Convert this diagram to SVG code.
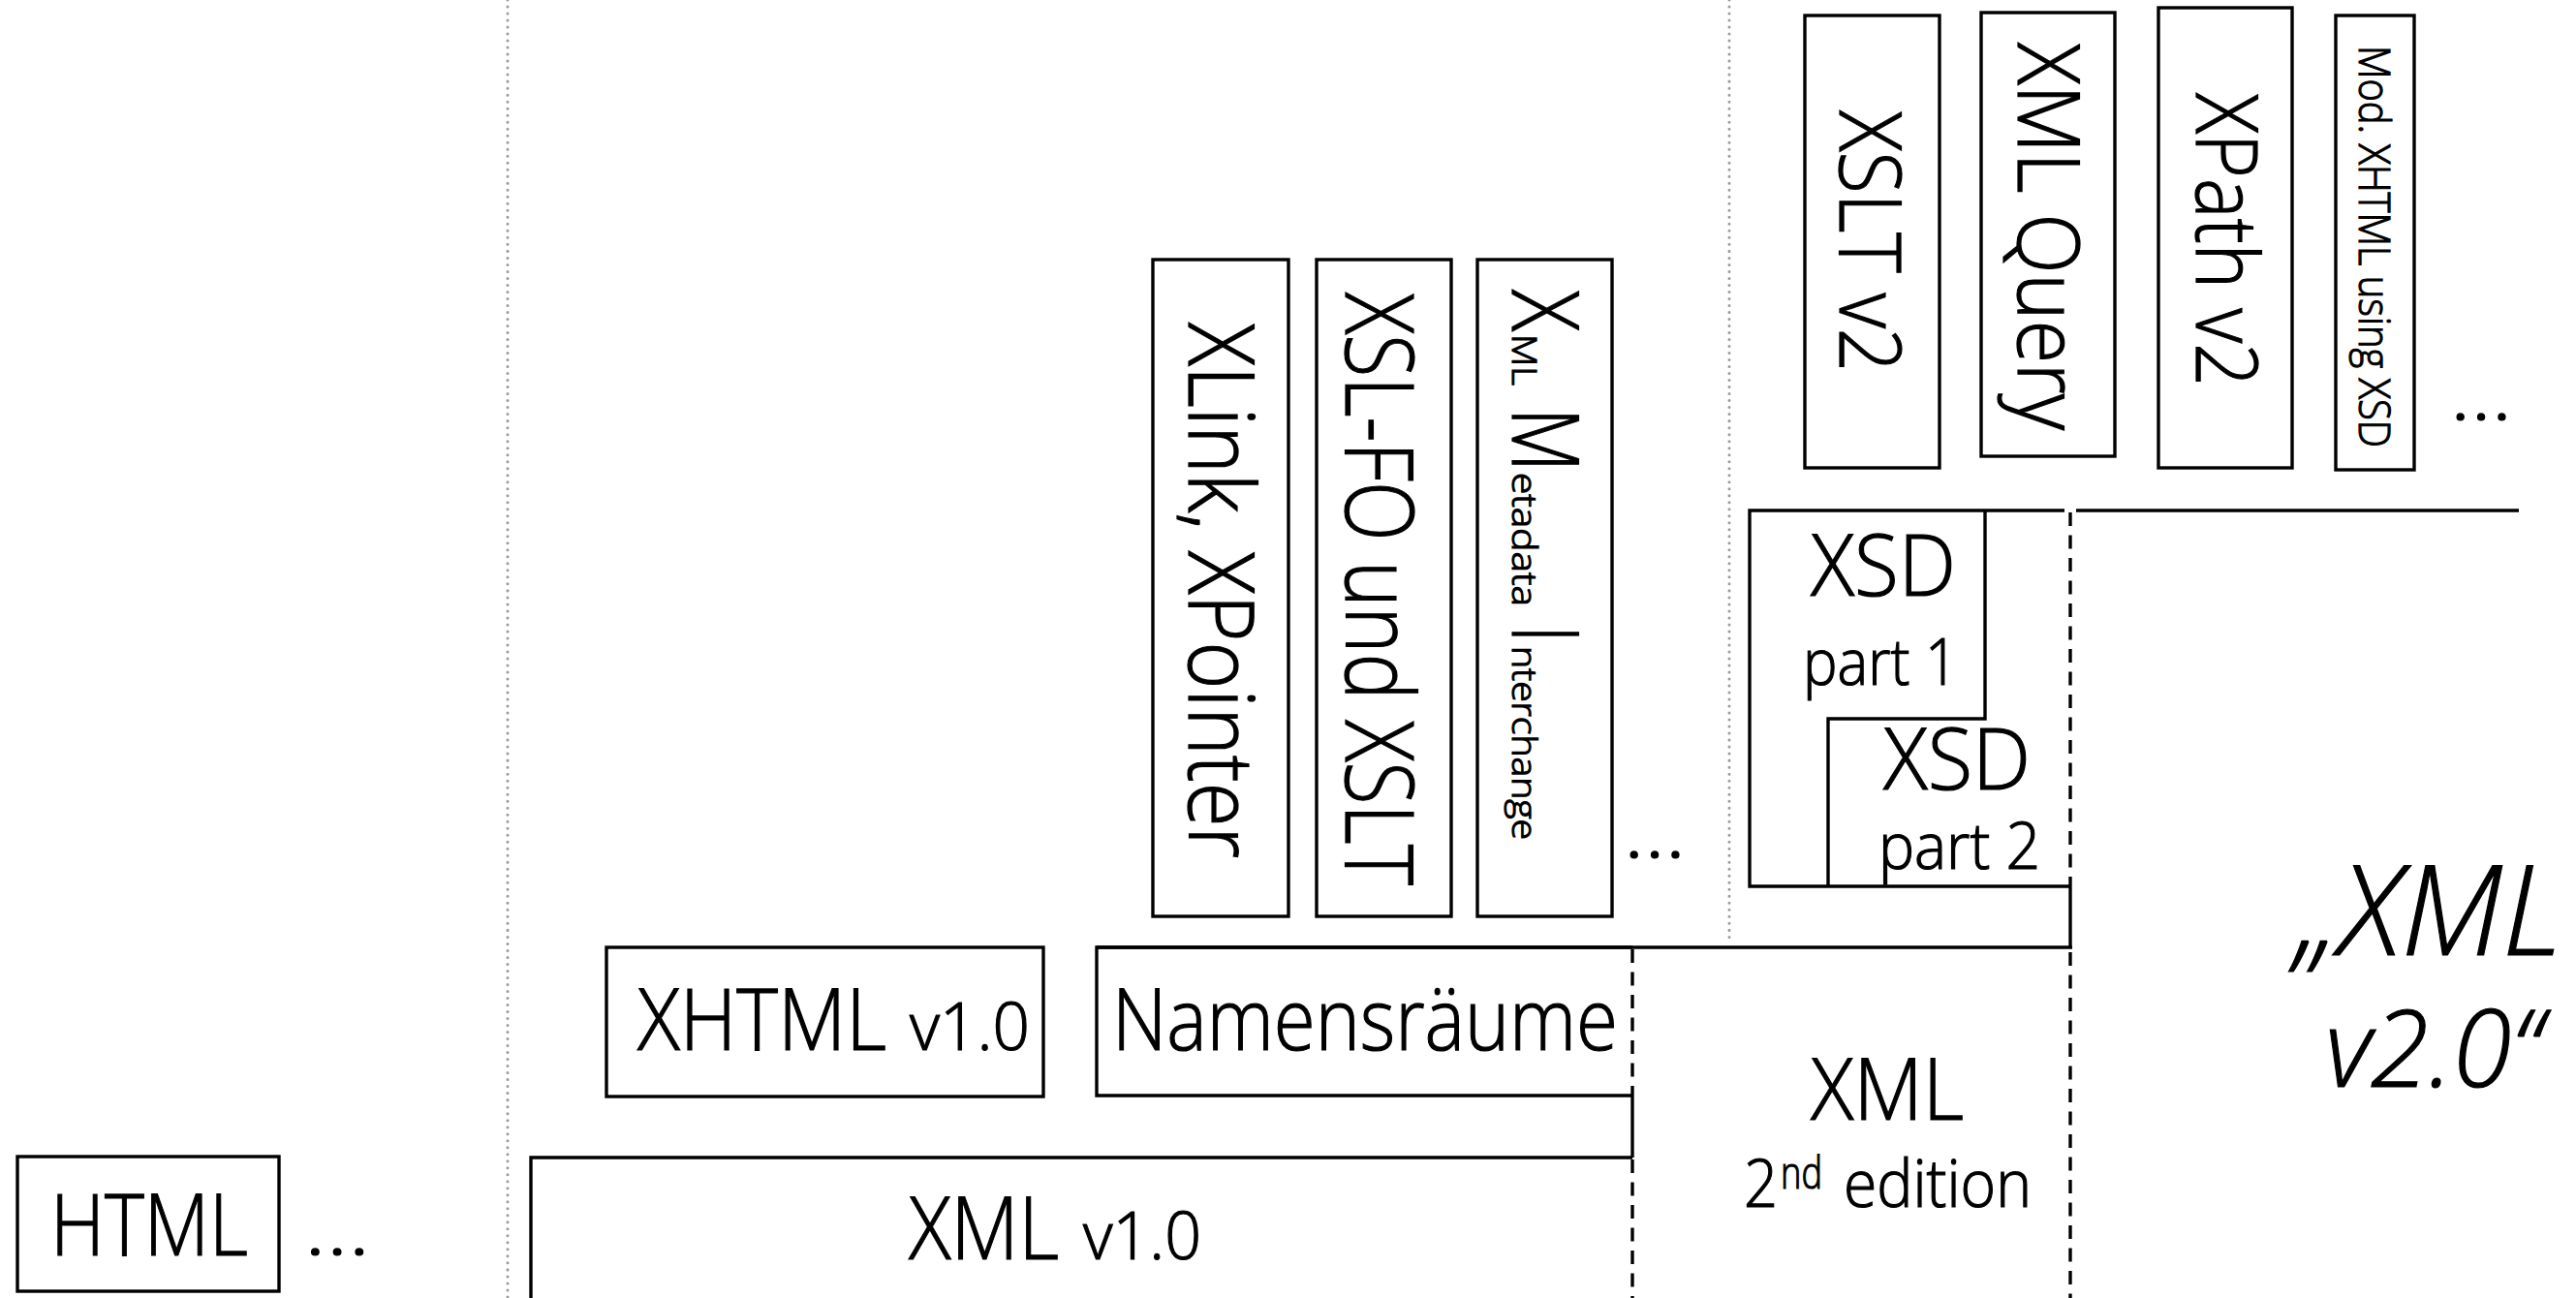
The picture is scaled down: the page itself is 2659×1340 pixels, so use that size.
<svg xmlns="http://www.w3.org/2000/svg" width="2659" height="1340" viewBox="0 0 2659 1340">
<style>
.b{fill:none;stroke:#000;stroke-width:3.4}
.d{fill:none;stroke:#000;stroke-width:3.4;stroke-dasharray:14 9.5}
.g{fill:none;stroke:#9a9a9a;stroke-width:3;stroke-linecap:round;stroke-dasharray:0.01 7}
.t{font-family:"Open Sans","Liberation Sans",Arial,sans-serif;font-weight:300;fill:#000;stroke:#000;stroke-width:1.2}
.i{font-family:"Open Sans","Liberation Sans",Arial,sans-serif;font-weight:300;font-style:italic;fill:#000;stroke:#000;stroke-width:1.2}
</style>
<rect width="2659" height="1340" fill="#fff"/>
<g id="lines">
<line class="g" x1="524" y1="0" x2="524" y2="1340"/>
<line class="g" x1="1785" y1="0" x2="1785" y2="972"/>
<line class="d" x1="1685" y1="980" x2="1685" y2="1131"/>
<line class="b" x1="1685" y1="1131" x2="1685" y2="1195"/>
<line class="d" x1="1685" y1="1197" x2="1685" y2="1340"/>
<line class="d" x1="2137" y1="529" x2="2137" y2="914"/>
<line class="b" x1="2137" y1="914" x2="2137" y2="978"/>
<line class="d" x1="2137" y1="983" x2="2137" y2="1340"/>
<line class="b" x1="1132" y1="978" x2="2139" y2="978"/>
<line class="b" x1="2143" y1="527" x2="2600" y2="527"/>
</g>
<g id="html">
<rect class="b" x="18" y="1194" width="270" height="139"/>
<text class="t" x="52" y="1296" font-size="89" textLength="204" lengthAdjust="spacingAndGlyphs">HTML</text>
<text class="t" x="314" y="1295" font-size="80" textLength="68" lengthAdjust="spacingAndGlyphs">…</text>
</g>
<g id="xml10">
<path class="b" d="M548,1340 V1195 H1685"/>
<text class="t" x="938" y="1300" font-size="90" textLength="155" lengthAdjust="spacingAndGlyphs">XML</text>
<text class="t" x="1118" y="1300" font-size="68" textLength="122" lengthAdjust="spacingAndGlyphs">v1.0</text>
</g>
<g id="xhtml">
<rect class="b" x="626" y="978" width="451" height="154"/>
<text class="t" x="658" y="1084" font-size="89" textLength="257" lengthAdjust="spacingAndGlyphs">XHTML</text>
<text class="t" x="939" y="1084" font-size="68" textLength="124" lengthAdjust="spacingAndGlyphs">v1.0</text>
</g>
<g id="namensraeume">
<path class="b" d="M1685,978 H1132 V1131 H1685"/>
<text class="t" x="1148" y="1084" font-size="89" textLength="522" lengthAdjust="spacingAndGlyphs">Namensräume</text>
</g>
<g id="xml2nd">
<text class="t" x="1869" y="1156" font-size="89" textLength="158" lengthAdjust="spacingAndGlyphs">XML</text>
<text class="t" x="1800" y="1246" font-size="68" textLength="35" lengthAdjust="spacingAndGlyphs">2</text>
<text class="t" x="1838" y="1227" font-size="46" textLength="43" lengthAdjust="spacingAndGlyphs">nd</text>
<text class="t" x="1903" y="1246" font-size="68" textLength="194" lengthAdjust="spacingAndGlyphs">edition</text>
</g>
<g id="xsd">
<path class="b" d="M2131,527 H1806 V915 H2137"/>
<path class="b" d="M2049,527 V742 H1887 V915"/>
<text class="t" x="1869" y="615" font-size="88" textLength="150" lengthAdjust="spacingAndGlyphs">XSD</text>
<text class="t" x="1861" y="707" font-size="67" textLength="160" lengthAdjust="spacingAndGlyphs">part 1</text>
<text class="t" x="1944" y="815" font-size="88" textLength="152" lengthAdjust="spacingAndGlyphs">XSD</text>
<text class="t" x="1939" y="897" font-size="67" textLength="167" lengthAdjust="spacingAndGlyphs">part 2</text>
</g>
<g id="xml20">
<text class="i" x="2368" y="986" font-size="130" textLength="277" lengthAdjust="spacingAndGlyphs">„XML</text>
<text class="i" x="2400" y="1122" font-size="110" textLength="224" lengthAdjust="spacingAndGlyphs">v2.0“</text>
</g>
<g id="xlink">
<rect class="b" x="1190" y="268" width="140" height="678"/>
<text class="t" transform="translate(1227,0) rotate(90)" x="333" y="0" font-size="94" textLength="553" lengthAdjust="spacingAndGlyphs">XLink, XPointer</text>
</g>
<g id="xslfo">
<rect class="b" x="1359" y="268" width="139" height="678"/>
<text class="t" transform="translate(1389,0) rotate(90)" x="302" y="0" font-size="98" textLength="612" lengthAdjust="spacingAndGlyphs">XSL-FO und XSLT</text>
</g>
<g id="xmlmi">
<rect class="b" x="1525" y="268" width="139" height="678"/>
<g transform="translate(1561,0) rotate(90)">
<text class="t" x="299" y="0" font-size="95" textLength="43" lengthAdjust="spacingAndGlyphs">X</text>
<text class="t" x="345" y="0" font-size="34" textLength="53" lengthAdjust="spacingAndGlyphs">ML</text>
<text class="t" x="421" y="0" font-size="95" textLength="66" lengthAdjust="spacingAndGlyphs">M</text>
<text class="t" x="488" y="0" font-size="34" textLength="138" lengthAdjust="spacingAndGlyphs">etadata</text>
<text class="t" x="646" y="0" font-size="95" textLength="17" lengthAdjust="spacingAndGlyphs">I</text>
<text class="t" x="667" y="0" font-size="34" textLength="200" lengthAdjust="spacingAndGlyphs">nterchange</text>
</g>
<text class="t" x="1676" y="885" font-size="80" textLength="64" lengthAdjust="spacingAndGlyphs">…</text>
</g>
<g id="xslt2">
<rect class="b" x="1863" y="16" width="139" height="467"/>
<text class="t" transform="translate(1899,0) rotate(90)" x="114" y="0" font-size="89" textLength="270" lengthAdjust="spacingAndGlyphs">XSLT v2</text>
</g>
<g id="xmlquery">
<rect class="b" x="2045" y="13" width="138" height="458"/>
<text class="t" transform="translate(2083,0) rotate(90)" x="44" y="0" font-size="89" textLength="400" lengthAdjust="spacingAndGlyphs">XML Query</text>
</g>
<g id="xpath2">
<rect class="b" x="2228" y="8" width="138" height="475"/>
<text class="t" transform="translate(2267,0) rotate(90)" x="96" y="0" font-size="89" textLength="303" lengthAdjust="spacingAndGlyphs">XPath v2</text>
</g>
<g id="modxhtml">
<rect class="b" x="2411" y="16" width="81" height="469"/>
<text class="t" transform="translate(2435,0) rotate(90)" x="47" y="0" font-size="45" textLength="415" lengthAdjust="spacingAndGlyphs">Mod. XHTML using XSD</text>
<text class="t" x="2529" y="433" font-size="80" textLength="64" lengthAdjust="spacingAndGlyphs">…</text>
</g>
</svg>
